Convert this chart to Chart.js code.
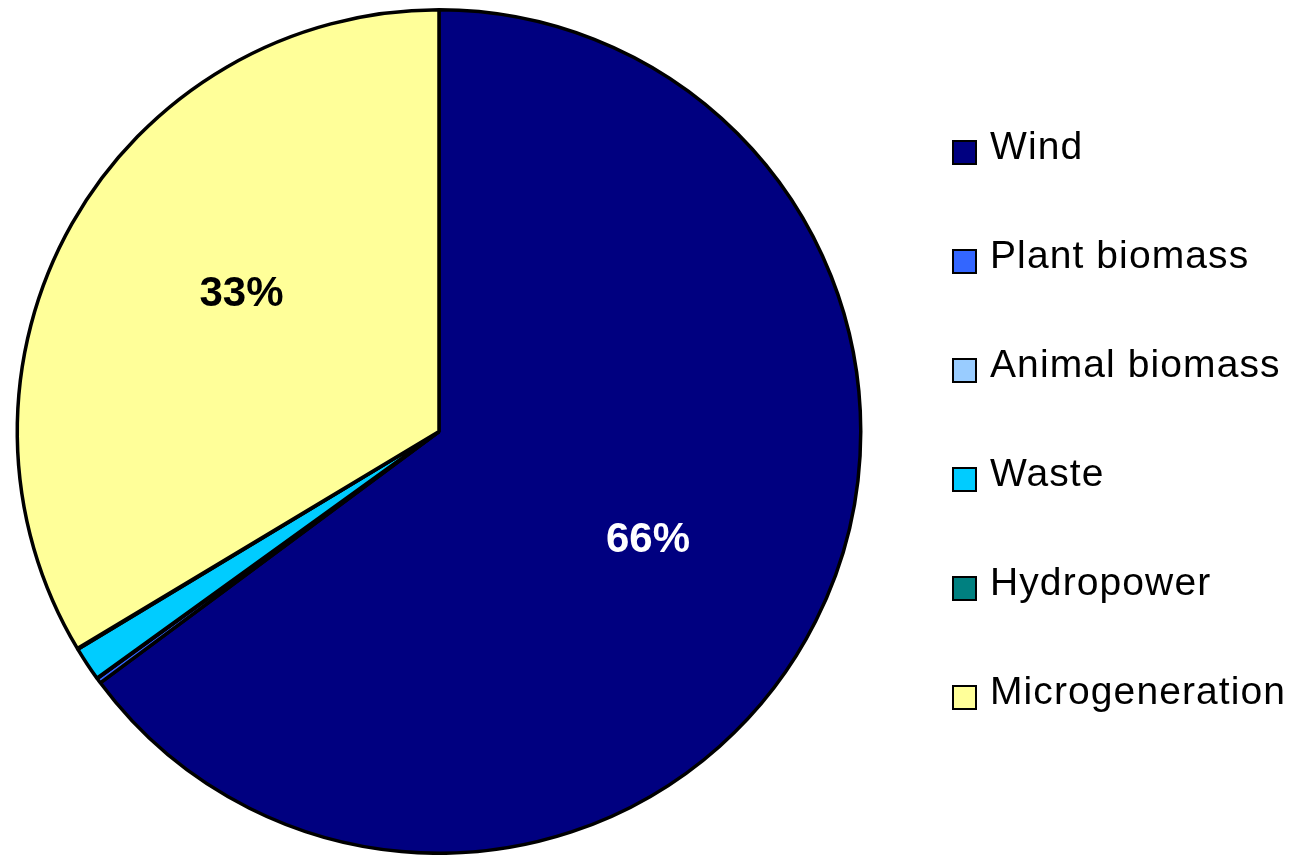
<!DOCTYPE html>
<html>
<head>
<meta charset="utf-8">
<title>Renewable generation by source</title>
<script src="https://cdn.jsdelivr.net/npm/chart.js@4.4.1/dist/chart.umd.min.js"></script>
<style>
    html, body { margin: 0; padding: 0; background: #fff; }
    #wrap { position: relative; width: 1294px; height: 855px; }
    #legend { position: absolute; left: 952px; top: 91px; font-family: "Liberation Sans", Arial, sans-serif; }
    .row { height: 109px; display: flex; align-items: center; }
    .box { width: 21px; height: 21px; border: 2px solid #000; box-sizing: content-box; transform: translateY(7px); }
    .txt { margin-left: 13px; font-size: 39px; letter-spacing: 1.1px; color: #000; line-height: 39px; }
</style>
</head>
<body>
<div id="wrap">
    <canvas id="grafikPie" width="1294" height="855"></canvas>
    <div id="legend"></div>
</div>
<script>
// ── Data ────────────────────────────────────────────────
const labels = ['Wind', 'Plant biomass', 'Animal biomass', 'Waste', 'Hydropower', 'Microgeneration'];
const shares = [64.84, 0.2, 0.02, 1.3, 0.04, 33.6];
const labelTexts = ['66%', '', '', '', '', '33%'];
const colors = ['#000080', '#3366FF', '#99CCFF', '#00CCFF', '#008080', '#FFFF99'];
const labelColors = ['#FFFFFF', '#000', '#000', '#000', '#000', '#000'];
// geseran kecil posisi label (gaya, bukan data)
const labelNudge = [[-2, 3], [0, 0], [0, 0], [0, 0], [0, 0], [8, -21]];

// ── Label persentase di dalam irisan ───────────────────
const labelIrisan = {
    id: 'labelIrisan',
    afterDatasetsDraw: function (chart) {
        const ctx = chart.ctx;
        const meta = chart.getDatasetMeta(0);
        ctx.save();
        ctx.font = 'bold 42px "Liberation Sans", Arial, sans-serif';
        ctx.textAlign = 'center';
        ctx.textBaseline = 'middle';
        meta.data.forEach(function (arc, i) {
            if (!labelTexts[i]) return;
            const p = arc.getProps(['x', 'y', 'startAngle', 'endAngle', 'outerRadius'], true);
            const mid = (p.startAngle + p.endAngle) / 2;
            const r = p.outerRadius * 0.56;
            ctx.fillStyle = labelColors[i];
            ctx.fillText(labelTexts[i], p.x + Math.cos(mid) * r + labelNudge[i][0], p.y + Math.sin(mid) * r + labelNudge[i][1]);
        });
        ctx.restore();
    }
};

document.addEventListener('DOMContentLoaded', function () {
    new Chart(document.getElementById('grafikPie').getContext('2d'), {
        type: 'pie',
        data: {
            labels: labels,
            datasets: [{
                data: shares,
                backgroundColor: colors,
                borderColor: '#000',
                borderWidth: 3.5,
                hoverBorderWidth: 3.5,
                hoverOffset: 0
            }]
        },
        options: {
            responsive: false,
            animation: false,
            layout: { padding: { top: 8, bottom: 0, left: 0, right: 416 } },
            plugins: { legend: { display: false }, tooltip: { enabled: false } }
        },
        plugins: [labelIrisan]
    });

    // legenda HTML
    const lg = document.getElementById('legend');
    labels.forEach(function (nama, i) {
        const row = document.createElement('div');
        row.className = 'row';
        const box = document.createElement('span');
        box.className = 'box';
        box.style.background = colors[i];
        const t = document.createElement('span');
        t.className = 'txt';
        t.textContent = nama;
        row.appendChild(box);
        row.appendChild(t);
        lg.appendChild(row);
    });
});
</script>
</body>
</html>
